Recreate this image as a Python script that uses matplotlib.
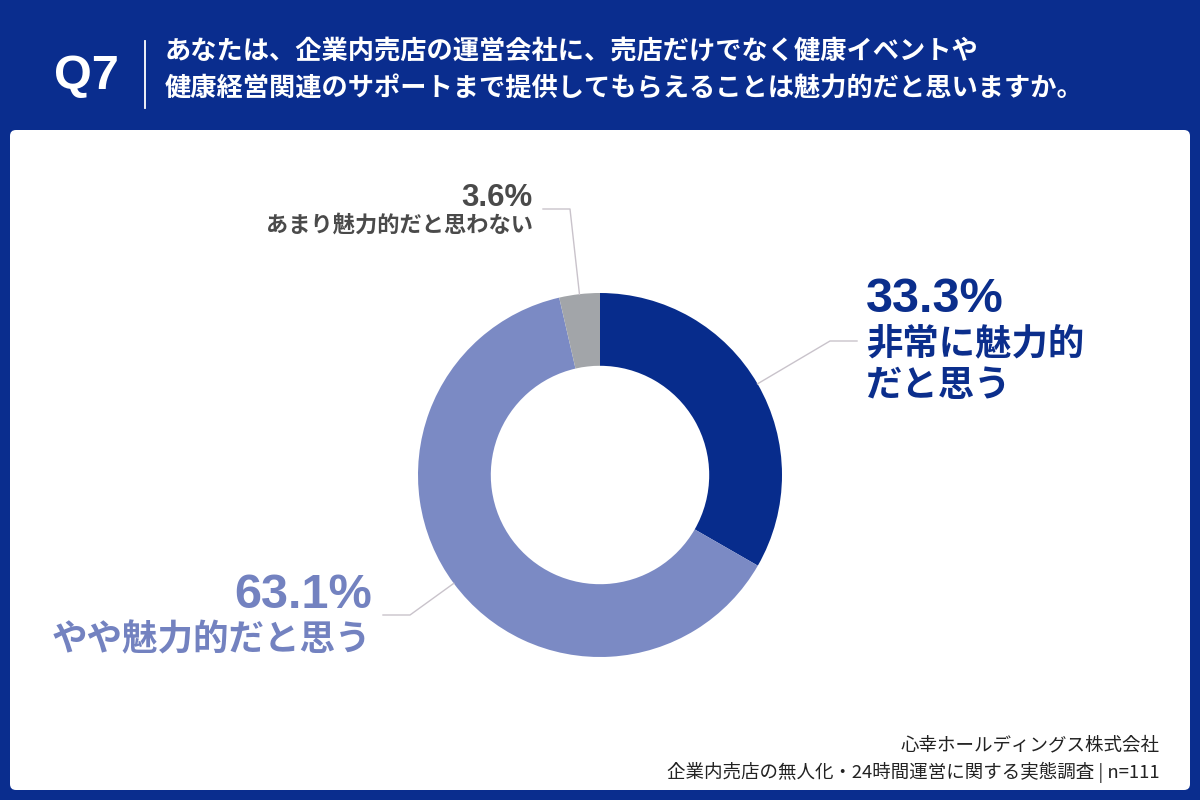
import matplotlib
matplotlib.use("Agg")
import matplotlib.pyplot as plt
from matplotlib.patches import FancyBboxPatch
import numpy as np

# ---- data ----
labels = ["非常に魅力的\nだと思う", "やや魅力的だと思う", "あまり魅力的だと思わない"]
values = [33.3, 63.1, 3.6]
pct_labels = ["33.3%", "63.1%", "3.6%"]
colors = ["#072c8c", "#7b8ac4", "#a2a5a9"]
text_colors = ["#0b2e8c", "#7382c0", "#4a4a4a"]
title_q = "Q7"
title_lines = ["あなたは、企業内売店の運営会社に、売店だけでなく健康イベントや",
               "健康経営関連のサポートまで提供してもらえることは魅力的だと思いますか。"]
footer_lines = ["心幸ホールディングス株式会社",
                "企業内売店の無人化・24時間運営に関する実態調査 | n=111"]

JP = ["Noto Sans CJK JP", "DejaVu Sans"]
LAT = ["Liberation Sans", "Noto Sans CJK JP", "DejaVu Sans"]
NAVY = "#0a2d8e"

W, H = 1200, 800
fig = plt.figure(figsize=(12, 8), dpi=100, facecolor=NAVY)
ax = fig.add_axes([0, 0, 1, 1])
ax.set_xlim(0, W)
ax.set_ylim(0, H)
ax.set_aspect("equal")
ax.axis("off")

def Y(y):
    return H - y

# white panel
panel = FancyBboxPatch((10, Y(790)), 1180, 660, boxstyle="round,pad=0,rounding_size=6",
                       fc="white", ec="none", zorder=0)
ax.add_patch(panel)

# title
ax.text(86, Y(76), title_q, family=LAT, weight="bold", fontsize=35, color="white",
        ha="center", va="center")
ax.plot([145, 145], [Y(41), Y(108)], color="white", lw=1.3)
ax.text(165, Y(51), title_lines[0], family=JP, weight="bold", fontsize=18.9, color="white",
        ha="left", va="center")
ax.text(165, Y(89), title_lines[1], family=JP, weight="bold", fontsize=18.9, color="white",
        ha="left", va="center")

# donut
cx, cy, R = 600, 475, 182
wedges, _ = ax.pie(values, colors=colors, startangle=90, counterclock=False,
                   center=(cx, Y(cy)), radius=R,
                   wedgeprops=dict(width=R * 0.4, edgecolor="none"))
ax.set_xlim(0, W)
ax.set_ylim(0, H)

def anchor(i):
    w = wedges[i]
    ang = np.deg2rad((w.theta1 + w.theta2) / 2)
    return cx + R * np.cos(ang), Y(cy) + R * np.sin(ang)

lc = "#c9c3cb"
# 33.3%
ax_, ay_ = anchor(0)
ax.plot([ax_, 830, 857], [ay_, Y(341), Y(341)], color=lc, lw=1.0, zorder=1)
ax.text(866, Y(299), pct_labels[0], family=LAT, weight="bold", fontsize=35,
        color=text_colors[0], ha="left", va="center")
ax.text(866, Y(365), labels[0], family=JP, weight="bold", fontsize=26.2,
        color=text_colors[0], ha="left", va="center", linespacing=1.15)
# 63.1%
ax_, ay_ = anchor(1)
ax.plot([ax_, 410, 383], [ay_, Y(615), Y(615)], color=lc, lw=1.0, zorder=1)
ax.text(372, Y(595), pct_labels[1], family=LAT, weight="bold", fontsize=35,
        color=text_colors[1], ha="right", va="center")
ax.text(371, Y(640), labels[1], family=JP, weight="bold", fontsize=25.6,
        color=text_colors[1], ha="right", va="center")
# 3.6%
ax_, ay_ = anchor(2)
ax.plot([543, 570, ax_], [Y(209), Y(209), ay_], color=lc, lw=1.0, zorder=1)
ax.text(533, Y(198), pct_labels[2], family=LAT, weight="bold", fontsize=22.5,
        color=text_colors[2], ha="right", va="center")
ax.text(533, Y(225), labels[2], family=JP, weight="bold", fontsize=16,
        color=text_colors[2], ha="right", va="center")

# footer
ax.text(1160, Y(745), footer_lines[0], family=JP, fontsize=13.3, color="#222222",
        ha="right", va="center")
ax.text(1160, Y(772), footer_lines[1], family=JP, fontsize=13.3, color="#222222",
        ha="right", va="center")

fig.savefig("out.png", dpi=100, facecolor=NAVY)
